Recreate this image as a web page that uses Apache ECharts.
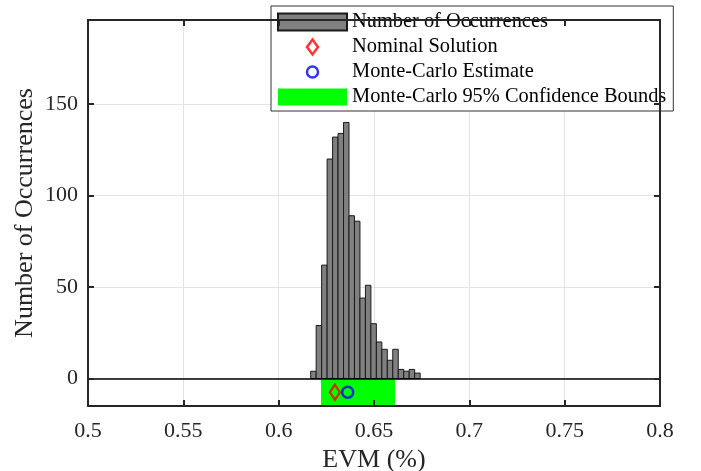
<!DOCTYPE html>
<html>
<head>
<meta charset="utf-8">
<script src="https://cdn.jsdelivr.net/npm/echarts@6/dist/echarts.min.js"></script>
<style>html,body{margin:0;padding:0;background:#fff;}#c{width:701px;height:471px;}</style>
</head>
<body>
<div id="c"></div>
<script>
// ---- data ----
const binStart = 0.6168;
const binWidth = 0.00287;
const counts = [4, 29, 62, 120, 132, 134, 140, 89, 86, 44, 51, 30, 20, 16, 10, 16, 5, 4, 5, 3];
const nominalSolution = [0.6295, -7.5];
const monteCarloEstimate = [0.6362, -7.5];
const confidenceBounds = [0.6222, 0.6610];
const xTicks = [0.5, 0.55, 0.6, 0.65, 0.7, 0.75, 0.8];
const yTicks = [0, 50, 100, 150];
const xMin = 0.5, xMax = 0.8, xStep = 0.05;
const yMin = -15, yMax = 196;

const FONT = "'Liberation Serif', 'Times New Roman', serif";
const TXT = '#262626';

const histData = counts.map((c, i) => [binStart + i * binWidth, binStart + (i + 1) * binWidth, c]);

const diamondIcon = 'path://M0,0M17,17M8.5,1L14,8.5L8.5,16L3,8.5Z';
const circleIcon = 'path://M0,0M17,17M8.5,3A5.5,5.5,0,1,1,8.49,3Z';

const chart = echarts.init(document.getElementById('c'), null, {renderer: 'canvas'});

function xAxisBase(extra) {
  return Object.assign({type: 'value', min: xMin, max: xMax, interval: xStep, gridIndex: 0}, extra);
}
function yAxisBase(extra) {
  return Object.assign({type: 'value', min: yMin, max: yMax, gridIndex: 0}, extra);
}
const yFmt = v => (yTicks.indexOf(v) >= 0 ? String(v) : '');
const xFmt = v => {
  const m = xTicks.find(t => Math.abs(t - v) < 1e-9);
  return m === undefined ? '' : String(m);
};

const option = {
  animation: false,
  backgroundColor: '#fff',
  grid: {left: 88, right: 41, top: 20, bottom: 65, containLabel: false, outerBoundsMode: 'none'},
  xAxis: [
    xAxisBase({position: 'bottom', z: 0,
      axisLine: {show: false}, axisTick: {show: false}, axisLabel: {show: false},
      splitLine: {show: true, lineStyle: {color: '#e3e3e3', width: 1}}}),
    xAxisBase({position: 'bottom', z: 5,
      axisLine: {show: true, onZero: false, lineStyle: {color: TXT, width: 2}},
      axisTick: {show: true, inside: true, length: 6, lineStyle: {color: TXT, width: 2}},
      axisLabel: {show: true, margin: 14, color: TXT, fontFamily: FONT, fontSize: 22, formatter: xFmt},
      splitLine: {show: false},
      name: 'EVM (%)', nameLocation: 'middle', nameGap: 41, nameMoveOverlap: false,
      nameTextStyle: {color: TXT, fontFamily: FONT, fontSize: 26}}),
    xAxisBase({position: 'top', z: 5,
      axisLine: {show: true, onZero: false, lineStyle: {color: TXT, width: 2}},
      axisTick: {show: true, inside: true, length: 6, lineStyle: {color: TXT, width: 2}},
      axisLabel: {show: false}, splitLine: {show: false}})
  ],
  yAxis: [
    yAxisBase({position: 'left', z: 0,
      axisLine: {show: false}, axisTick: {show: false}, axisLabel: {show: false},
      splitLine: {show: true, lineStyle: {color: '#e3e3e3', width: 1}}}),
    yAxisBase({position: 'left', z: 5,
      axisLine: {show: true, onZero: false, lineStyle: {color: TXT, width: 2}},
      axisTick: {show: true, inside: true, length: 6, lineStyle: {color: TXT, width: 2}},
      axisLabel: {show: true, margin: 10, color: TXT, fontFamily: FONT, fontSize: 22, formatter: yFmt},
      splitLine: {show: false},
      name: 'Number of Occurrences', nameLocation: 'middle', nameGap: 50, nameRotate: 90, nameMoveOverlap: false,
      nameTextStyle: {color: TXT, fontFamily: FONT, fontSize: 26}}),
    yAxisBase({position: 'right', z: 5,
      axisLine: {show: true, onZero: false, lineStyle: {color: TXT, width: 2}},
      axisTick: {show: true, inside: true, length: 6, lineStyle: {color: TXT, width: 2}},
      axisLabel: {show: false}, splitLine: {show: false}})
  ],
  legend: {
    orient: 'vertical', left: 271, top: 6,
    padding: [5, 7, 3, 6],
    itemWidth: 69, itemHeight: 17, itemGap: 3,
    backgroundColor: '#fff', borderColor: '#333', borderWidth: 1,
    textStyle: {fontFamily: FONT, fontSize: 20.4, color: '#000', lineHeight: 20, padding: [2, 0, 0, 0]},
    selectedMode: false,
    data: [
      {name: 'Number of Occurrences', icon: 'rect'},
      {name: 'Nominal Solution', icon: diamondIcon, itemStyle: {borderWidth: 2.5, borderColor: '#ff0000', color: 'rgba(0,0,0,0)'}},
      {name: 'Monte-Carlo Estimate', icon: circleIcon, itemStyle: {borderWidth: 2.5, borderColor: '#0000ff', color: 'rgba(0,0,0,0)'}},
      {name: 'Monte-Carlo 95% Confidence Bounds', icon: 'rect'}
    ]
  },
  series: [
    {
      name: 'Number of Occurrences', type: 'custom', xAxisIndex: 0, yAxisIndex: 0, z: 2,
      itemStyle: {color: '#808080', borderColor: '#1a1a1a', borderWidth: 1},
      encode: {x: [0, 1], y: 2},
      data: histData,
      renderItem: function (params, api) {
        const p0 = api.coord([api.value(0), 0]);
        const p1 = api.coord([api.value(1), api.value(2)]);
        return {type: 'rect',
          shape: {x: p0[0], y: p1[1], width: p1[0] - p0[0], height: p0[1] - p1[1]},
          style: {fill: '#808080', stroke: '#1a1a1a', lineWidth: 1}};
      },
      markLine: {
        silent: true, symbol: ['none', 'none'], label: {show: false},
        lineStyle: {color: '#000', width: 1.5, type: 'solid'},
        data: [{yAxis: 0}]
      }
    },
    {
      name: 'Monte-Carlo 95% Confidence Bounds', type: 'custom', xAxisIndex: 0, yAxisIndex: 0, z: 2,
      itemStyle: {color: '#00ff00', borderWidth: 0},
      encode: {x: [0, 1]},
      data: [confidenceBounds],
      renderItem: function (params, api) {
        const p0 = api.coord([api.value(0), 0]);
        const p1 = api.coord([api.value(1), yMin]);
        return {type: 'rect',
          shape: {x: p0[0], y: p0[1] + 1, width: p1[0] - p0[0], height: p1[1] - p0[1] - 1},
          style: {fill: '#00ff00'}};
      }
    },
    {
      name: 'Nominal Solution', type: 'scatter', xAxisIndex: 0, yAxisIndex: 0, z: 3,
      symbol: 'diamond', symbolSize: [10, 15],
      itemStyle: {color: 'rgba(0,0,0,0)', borderColor: '#ff0000', borderWidth: 2.5},
      data: [nominalSolution]
    },
    {
      name: 'Monte-Carlo Estimate', type: 'scatter', xAxisIndex: 0, yAxisIndex: 0, z: 3,
      symbol: 'circle', symbolSize: 11,
      itemStyle: {color: 'rgba(0,0,0,0)', borderColor: '#0000ff', borderWidth: 2.5},
      data: [monteCarloEstimate]
    }
  ]
};
chart.setOption(option);
</script>
</body>
</html>
